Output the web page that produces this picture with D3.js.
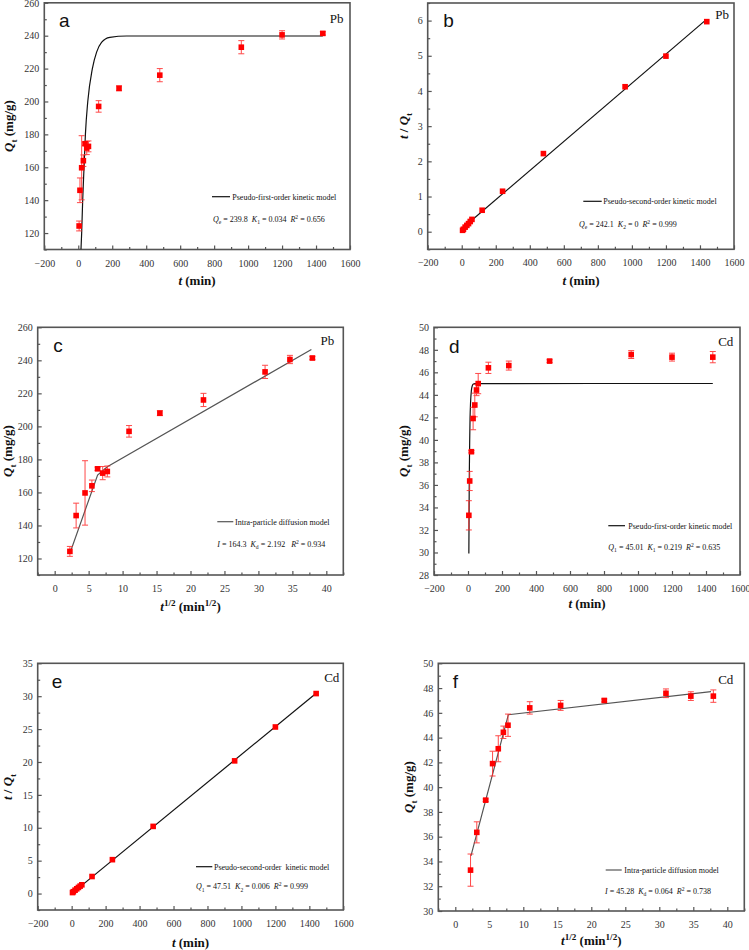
<!DOCTYPE html>
<html><head><meta charset="utf-8">
<script src="https://cdn.jsdelivr.net/npm/d3@7"></script>
<style>
html,body{margin:0;padding:0;background:#fff;}
svg{display:block;}
text{white-space:pre;}
</style></head>
<body>
<svg id="chart" width="749" height="950"></svg>
<script>
// ---------------- DATA ----------------
const times = [5,10,20,30,40,50,60,120,240,480,960,1200,1440];
const sqrtTimes = [2.24,3.16,4.47,5.48,6.32,7.07,7.75,10.95,15.49,21.91,30.98,34.64,37.95];
const qPb = [124.3,146,159.7,164,174.3,171.7,172.7,197,208,216,233,240.5,241.4];
const errPb = [3,7.5,19.5,3.5,1,4,3.3,3.5,1.5,4,4,2.5,1];
const tqPb = [0.04,0.07,0.13,0.18,0.23,0.29,0.35,0.61,1.15,2.22,4.12,4.99,5.97];
const qCd = [33.3,36.35,38.95,41.9,43.1,44.43,45.0,46.4,46.6,47.0,47.58,47.35,47.35];
const errCd = [1.3,0.85,0.1,1.0,1.05,0.5,0.9,0.5,0.4,0.12,0.35,0.35,0.5];
const tqCd = [0.15,0.28,0.51,0.72,0.93,1.13,1.33,2.59,5.15,10.21,20.17,25.32,30.4];

// fitted model curves
const fitPFOPb = [[16,110],[20,120],[26,140],[34,160],[42,180],[56,200],[83,220],[108,230],[137,236],[186,239],[285,239.8],[1440,239.8]];
const fitPSOPb = [[4,0.1],[1430,6.0]];
const fitIPDPb = [[2.4,125],[6.32,170.5],[7.75,175.5],[37.8,246.6]];
const fitPFOCd = [[5,29.9],[6,32.5],[7,35.3],[8,37.3],[10,40.0],[12,41.9],[15,43.3],[20,44.4],[25,44.8],[30,44.95],[40,45.0],[1440,45.01]];
const fitPSOCd = [[6,0.1],[1433,30.3]];
const fitIPDCd = [[2.3,34.45],[7.8,45.85],[37.6,47.72]];

// tick labels / domains
const tDomain = [-200,1600], tMajor = d3.range(-200,1601,200), tMinor = d3.range(-100,1600,200);
const sDomain = [-2.5,42.5], sMajor = d3.range(0,41,5), sMinor = d3.range(-2.5,42.6,5);

const legendTexts = {
  a:"Pseudo-first-order kinetic model", b:"Pseudo-second-order kinetic model",
  c:"Intra-particle diffusion model", d:"Pseudo-first-order kinetic model",
  e:"Pseudo-second-order  kinetic model", f:"Intra-particle diffusion model"
};
const formulas = {
  a:[["Q","i"],["e","sub"],[" = 239.8  "],["K","i"],["1","sub"],[" = 0.034  "],["R","i"],["2","sup"],[" = 0.656"]],
  b:[["Q","i"],["e","sub"],[" = 242.1  "],["K","i"],["2","sub"],[" = 0  "],["R","i"],["2","sup"],[" = 0.999"]],
  c:[["I","i"],[" = 164.3  "],["K","i"],["d","sub"],[" = 2.192   "],["R","i"],["2","sup"],[" = 0.934"]],
  d:[["Q","i"],["1","sub"],[" = 45.01  "],["K","i"],["1","sub"],[" = 0.219  "],["R","i"],["2","sup"],[" = 0.635"]],
  e:[["Q","i"],["1","sub"],[" = 47.51  "],["K","i"],["2","sub"],[" = 0.006  "],["R","i"],["2","sup"],[" = 0.999"]],
  f:[["I","i"],[" = 45.28  "],["K","i"],["d","sub"],[" = 0.064  "],["R","i"],["2","sup"],[" = 0.738"]]
};

// ---------------- LAYOUT ----------------
const svg = d3.select("#chart");
const SERIF = "'Liberation Serif','Times New Roman',serif";
const SANS = "'Liberation Sans',Arial,sans-serif";

function richText(g, x, y, segs, size, opts={}) {
  const t = g.append("text").attr("x", x).attr("y", y)
    .attr("font-family", SERIF).attr("font-size", size).attr("fill", "#111");
  if (opts.bold) t.attr("font-weight", "bold");
  if (opts.anchor) t.attr("text-anchor", opts.anchor);
  if (opts.rotate) t.attr("transform", `rotate(-90,${x},${y})`);
  let shift = 0;
  segs.forEach(s => {
    const [str, kind] = s;
    const sp = t.append("tspan").text(str).attr("fill", "#111");
    let target = 0;
    if (kind === "sub") { target = size*0.3; sp.attr("font-size", size*0.7); }
    else if (kind === "sup") { target = -size*0.4; sp.attr("font-size", size*0.7); }
    else if (kind === "i") sp.attr("font-style", "italic");
    sp.attr("dy", target - shift);
    shift = target;
  });
  return t;
}

const yTitleQ = [["Q","i"],["t","sub"],[" (mg/g)"]];
const yTitleTQ = [["t","i"],[" / "],["Q","i"],["t","sub"]];
const xTitleT = [["t","i"],[" (min)"]];
const xTitleS = [["t","i"],["1/2","sup"],[" (min"],["1/2","sup"],[")"]];

const panels = [
  {id:"a", L:44.3,R:350,T:2.8,B:249.5, xd:tDomain, xM:tMajor, xm:tMinor, yd:[110,260], yM:d3.range(120,261,20), ym:d3.range(110,261,20),
   xs:times, ys:qPb, err:errPb, fit:fitPFOPb, fitColor:"#111", curve:d3.curveMonotoneX, metal:"Pb",
   letter:[59,27.3], metalPos:[343.5,22.5], leg:[212,230,196.7], legText:[232.3,199.7], form:[213,222],
   yTitle:yTitleQ, yTitlePos:[13,126], xTitle:xTitleT, xTitlePos:[197,285]},
  {id:"b", L:427.7,R:734,T:3,B:249.3, xd:tDomain, xM:tMajor, xm:tMinor, yd:[-0.5,6.5], yM:d3.range(0,6.1,1), ym:d3.range(-0.5,6.6,1),
   xs:times, ys:tqPb, err:null, fit:fitPSOPb, fitColor:"#111", curve:d3.curveLinear, metal:"Pb",
   letter:[443.3,27.3], metalPos:[729,18.5], leg:[583.3,601.7,201.3], legText:[603.3,204.3], form:[579,227],
   yTitle:yTitleTQ, yTitlePos:[408.3,126], xTitle:xTitleT, xTitlePos:[581,285]},
  {id:"c", L:37.7,R:343.3,T:327.3,B:575, xd:sDomain, xM:sMajor, xm:sMinor, yd:[110,260], yM:d3.range(120,261,20), ym:d3.range(110,261,20),
   xs:sqrtTimes, ys:qPb, err:errPb, fit:fitIPDPb, fitColor:"#555", curve:d3.curveLinear, metal:"Pb",
   letter:[53.3,351.7], metalPos:[334.3,345], leg:[217.3,233.3,521.7], legText:[235,524.7], form:[217.3,546.7],
   yTitle:yTitleQ, yTitlePos:[12,451], xTitle:xTitleS, xTitlePos:[190.5,611]},
  {id:"d", L:434,R:740,T:327.3,B:575, xd:tDomain, xM:tMajor, xm:tMinor, yd:[28,50], yM:d3.range(28,50.1,2), ym:d3.range(29,50,2),
   xs:times, ys:qCd, err:errCd, fit:fitPFOCd, fitColor:"#111", curve:d3.curveMonotoneX, metal:"Cd",
   letter:[449,352.7], metalPos:[733.3,345.7], leg:[608.3,625,525.7], legText:[628.3,528.7], form:[608.3,550],
   yTitle:yTitleQ, yTitlePos:[408.3,451], xTitle:xTitleT, xTitlePos:[587,608]},
  {id:"e", L:37.7,R:343.3,T:663.3,B:910, xd:tDomain, xM:tMajor, xm:tMinor, yd:[-2.5,35], yM:d3.range(0,35.1,5), ym:d3.range(-2.5,35,5),
   xs:times, ys:tqCd, err:null, fit:fitPSOCd, fitColor:"#111", curve:d3.curveLinear, metal:"Cd",
   letter:[51.7,688.3], metalPos:[339.3,682.3], leg:[196,212.3,866.7], legText:[214,869.7], form:[196,889.3],
   yTitle:yTitleTQ, yTitlePos:[12,787], xTitle:xTitleT, xTitlePos:[190.5,947]},
  {id:"f", L:438.3,R:744.3,T:663.3,B:911, xd:sDomain, xM:sMajor, xm:sMinor, yd:[30,50], yM:d3.range(30,50.1,2), ym:d3.range(31,50,2),
   xs:sqrtTimes, ys:qCd, err:errCd, fit:fitIPDCd, fitColor:"#555", curve:d3.curveLinear, metal:"Cd",
   letter:[452.7,688.3], metalPos:[733.3,684], leg:[605.7,621.7,870], legText:[624.3,873], form:[605,894],
   yTitle:yTitleQ, yTitlePos:[413.3,787], xTitle:xTitleS, xTitlePos:[591.3,945]}
];

panels.forEach(p => {
  const g = svg.append("g").attr("class", "panel-" + p.id);
  const x = d3.scaleLinear().domain(p.xd).range([p.L, p.R]);
  const y = d3.scaleLinear().domain(p.yd).range([p.B, p.T]);

  const clipId = "clip-" + p.id;
  svg.append("clipPath").attr("id", clipId).append("rect")
    .attr("x", p.L).attr("y", p.T).attr("width", p.R - p.L).attr("height", p.B - p.T);

  const fmt = d3.format("");
  g.append("g").attr("transform", `translate(0,${p.B})`)
    .call(d3.axisBottom(x).tickValues(p.xM).tickSize(-4).tickPadding(10).tickFormat(d => fmt(d)));
  g.append("g").attr("transform", `translate(0,${p.B})`)
    .call(d3.axisBottom(x).tickValues(p.xm).tickSize(-2.5).tickFormat(""));
  g.append("g").attr("transform", `translate(${p.L},0)`)
    .call(d3.axisLeft(y).tickValues(p.yM).tickSize(-4).tickPadding(5).tickFormat(d => fmt(d)));
  g.append("g").attr("transform", `translate(${p.L},0)`)
    .call(d3.axisLeft(y).tickValues(p.ym).tickSize(-2.5).tickFormat(""));
  g.selectAll(".domain").remove();
  g.selectAll(".tick line").attr("stroke", "#555").attr("stroke-width", 1.2);
  g.selectAll(".tick text").attr("font-family", SERIF).attr("font-size", 10).attr("fill", "#333");

  g.append("rect").attr("x", p.L).attr("y", p.T).attr("width", p.R - p.L).attr("height", p.B - p.T)
    .attr("fill", "none").attr("stroke", "#555").attr("stroke-width", 1.6);

  g.append("path").datum(p.fit)
    .attr("clip-path", `url(#${clipId})`)
    .attr("d", d3.line().x(d => x(d[0])).y(d => y(d[1])).curve(p.curve))
    .attr("fill", "none").attr("stroke", p.fitColor).attr("stroke-width", 1.2);

  if (p.err) {
    const eb = g.append("g").attr("stroke", "#ff2a2a").attr("stroke-width", 1).attr("opacity", 0.85);
    p.xs.forEach((xv, i) => {
      const cx = x(xv), y1 = y(p.ys[i] - p.err[i]), y2 = y(p.ys[i] + p.err[i]);
      eb.append("line").attr("x1", cx).attr("x2", cx).attr("y1", y1).attr("y2", y2);
      eb.append("line").attr("x1", cx - 3).attr("x2", cx + 3).attr("y1", y1).attr("y2", y1);
      eb.append("line").attr("x1", cx - 3).attr("x2", cx + 3).attr("y1", y2).attr("y2", y2);
    });
  }
  const ms = 5.6;
  g.append("g").selectAll("rect").data(p.xs.map((xv, i) => [xv, p.ys[i]])).join("rect")
    .attr("x", d => x(d[0]) - ms/2).attr("y", d => y(d[1]) - ms/2)
    .attr("width", ms).attr("height", ms).attr("fill", "#ff0000");

  g.append("text").attr("x", p.letter[0]).attr("y", p.letter[1]).text(p.id)
    .attr("font-family", SANS).attr("font-size", 19).attr("fill", "#111");
  g.append("text").attr("x", p.metalPos[0]).attr("y", p.metalPos[1]).text(p.metal)
    .attr("text-anchor", "end").attr("font-family", SERIF).attr("font-size", 13).attr("fill", "#111");

  g.append("line").attr("x1", p.leg[0]).attr("x2", p.leg[1]).attr("y1", p.leg[2]).attr("y2", p.leg[2])
    .attr("stroke", p.fitColor).attr("stroke-width", 1.2);
  g.append("text").attr("x", p.legText[0]).attr("y", p.legText[1]).text(legendTexts[p.id])
    .attr("font-family", SERIF).attr("font-size", 8).attr("fill", "#111");
  richText(g, p.form[0], p.form[1], formulas[p.id], 8);

  richText(g, p.yTitlePos[0], p.yTitlePos[1], p.yTitle, 13, {bold:true, anchor:"middle", rotate:true})
    .attr("dy", "0.35em");
  richText(g, p.xTitlePos[0], p.xTitlePos[1], p.xTitle, 13, {bold:true, anchor:"middle"});
});
</script>
</body></html>
